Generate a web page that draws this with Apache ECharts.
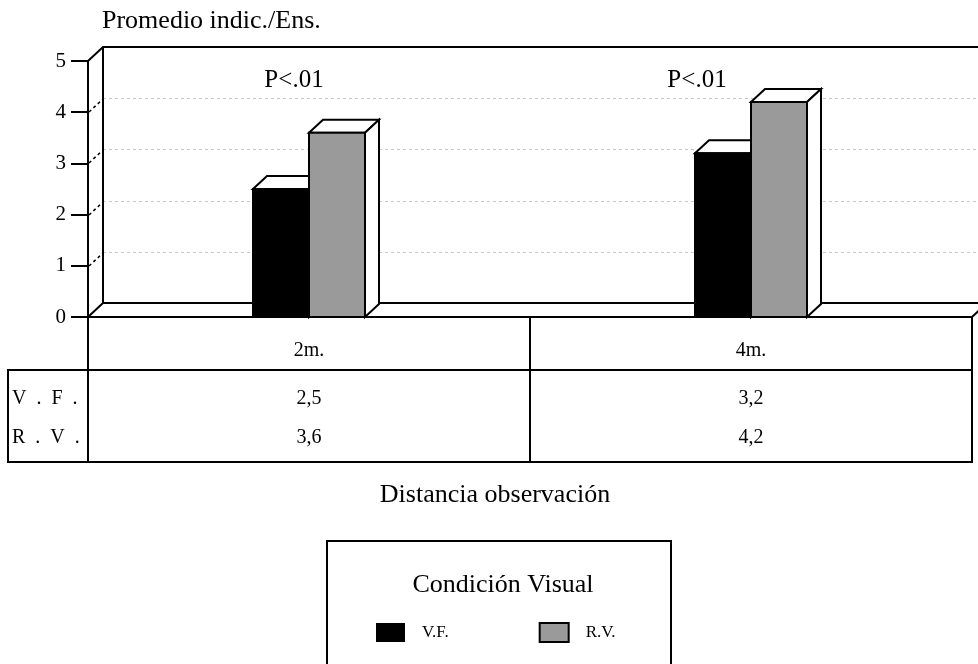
<!DOCTYPE html>
<html>
<head>
<meta charset="utf-8">
<script src="https://cdn.jsdelivr.net/npm/echarts@6/dist/echarts.min.js"></script>
<style>
  html, body { margin: 0; padding: 0; background: #fff; }
  #chart { width: 978px; height: 664px; }
</style>
</head>
<body>
<div id="chart"></div>
<script>
// ---- data ----
const categories = ['2m.', '4m.'];
const seriesNames = ['V.F.', 'R.V.'];
const rowLabels = ['V  .  F  .', 'R  .  V  .'];
const vfValues = [2.5, 3.2];
const rvValues = [3.6, 4.2];
const significance = ['P<.01', 'P<.01'];
const yTicks = [0, 1, 2, 3, 4, 5];

// ---- layout / style constants ----
const SERIF = '"Liberation Serif", "Times New Roman", serif';
const DX = 15, DY = -14;          // depth of back wall and floor
const BAR_DX = 14, BAR_DY = -13;  // depth of each bar
const BAR_FRAC = 56 / 442;        // bar width as a share of the category band
const HEADER_H = 53;              // category header row of the table
const TABLE_H = 145;              // full table height below the floor edge
const ROW_Y = [82, 121];          // text centres of the two value rows
const ROWLABEL_X = 8;             // left edge of the row-label column
const SIG_SHIFT = [-15, -54];     // horizontal shift of the significance notes
const GRAY = '#9a9a9a';

const fmt = v => v.toFixed(1).replace('.', ',');

function txt(text, x, y, size, align) {
  return {
    type: 'text',
    style: {
      text: text, x: x, y: y,
      font: size + 'px ' + SERIF, fontSize: size, fontFamily: SERIF,
      fill: '#000',
      align: align || 'center', textAlign: align || 'center',
      verticalAlign: 'middle', textVerticalAlign: 'middle'
    }
  };
}
function seg(x1, y1, x2, y2, w, dash, color) {
  return {
    type: 'line',
    shape: { x1: x1, y1: y1, x2: x2, y2: y2 },
    style: { stroke: color || '#000', lineWidth: w || 2, lineDash: dash || null, fill: 'none' }
  };
}

// back wall, floor and dashed guide lines
function renderFrame(params, api) {
  const cs = params.coordSys;
  const xL = cs.x, xR = cs.x + cs.width;
  const y0 = api.coord([0, yTicks[0]])[1];
  const yT = api.coord([0, yTicks[yTicks.length - 1]])[1];
  const W = api.getWidth() + 20;
  const ch = [];
  yTicks.slice(1, -1).forEach(function (v) {
    const y = Math.round(api.coord([0, v])[1]);
    ch.push(seg(xL + DX, y + DY + 0.5, W, y + DY + 0.5, 1, [3, 3], '#c8c8c8'));
    ch.push(seg(xL + 1, y, xL + DX, y + DY + 1, 1.5, [3, 3], '#000'));
  });
  ch.push(seg(xL + DX, yT + DY, xL + DX, y0 + DY));
  ch.push({ type: 'polyline', shape: { points: [[xL, yT], [xL + DX, yT + DY], [W, yT + DY]] },
            style: { stroke: '#000', lineWidth: 2, fill: 'none' } });
  ch.push({ type: 'polyline', shape: { points: [[xL, y0], [xL + DX, y0 + DY], [W, y0 + DY]] },
            style: { stroke: '#000', lineWidth: 2, fill: 'none' } });
  ch.push(seg(xR, y0, xR + DX, y0 + DY));
  return { type: 'group', children: ch };
}

// 3-D bar: front face, top face, right side face
function makeBarRenderer(slot) {
  return function (params, api) {
    const ci = api.value(0), v = api.value(1);
    const base = api.coord([ci, 0]);
    const top = api.coord([ci, v]);
    const w = api.size([1, 0])[0] * BAR_FRAC;
    const x0 = slot === 0 ? base[0] - w : base[0];
    const x1 = x0 + w;
    const yb = base[1], yt = top[1];
    const line = { stroke: '#000', lineWidth: 2, lineJoin: 'miter' };
    return {
      type: 'group',
      children: [
        { type: 'polygon',
          shape: { points: [[x0, yt], [x0 + BAR_DX, yt + BAR_DY], [x1 + BAR_DX, yt + BAR_DY], [x1, yt]] },
          style: Object.assign({ fill: '#fff' }, line) },
        { type: 'polygon',
          shape: { points: [[x1, yt], [x1 + BAR_DX, yt + BAR_DY], [x1 + BAR_DX, yb + BAR_DY], [x1, yb]] },
          style: Object.assign({ fill: '#fff' }, line) },
        { type: 'rect',
          shape: { x: x0, y: yt, width: w, height: yb - yt },
          style: Object.assign({ fill: api.visual('color') }, line) }
      ]
    };
  };
}

// data table under the floor plus the significance notes
function renderTable(params, api) {
  const i = api.value(0);
  const c = api.coord([i, 0]);
  const band = api.size([1, 0])[0];
  const xl = c[0] - band / 2, xr = c[0] + band / 2;
  const y0 = c[1], yH = y0 + HEADER_H, yB = y0 + TABLE_H;
  const yTop = api.coord([i, yTicks[yTicks.length - 1]])[1];
  const ch = [
    { type: 'rect', shape: { x: xl, y: y0, width: band, height: TABLE_H },
      style: { stroke: '#000', lineWidth: 2, fill: 'none' } },
    seg(xl, yH, xr, yH),
    txt(categories[i], c[0], y0 + 34, 20),
    txt(fmt(vfValues[i]), c[0], y0 + ROW_Y[0], 20),
    txt(fmt(rvValues[i]), c[0], y0 + ROW_Y[1], 20),
    txt(significance[i], c[0] + SIG_SHIFT[i], yTop + 19, 25)
  ];
  if (i === 0) {
    ch.push({ type: 'rect', shape: { x: ROWLABEL_X, y: yH, width: xl - ROWLABEL_X, height: yB - yH },
              style: { stroke: '#000', lineWidth: 2, fill: 'none' } });
    ch.push(txt(rowLabels[0], ROWLABEL_X + 4, y0 + ROW_Y[0], 20, 'left'));
    ch.push(txt(rowLabels[1], ROWLABEL_X + 4, y0 + ROW_Y[1], 20, 'left'));
  }
  return { type: 'group', children: ch };
}

const chart = echarts.init(document.getElementById('chart'), null, { renderer: 'canvas' });

chart.setOption({
  animation: false,
  backgroundColor: '#fff',
  grid: { left: 88, right: 6, top: 61, bottom: 347 },
  xAxis: { type: 'category', data: categories, show: false },
  yAxis: {
    type: 'value', min: 0, max: 5, interval: 1,
    axisLine: { show: true, lineStyle: { color: '#000', width: 2 } },
    axisTick: { show: true, length: 17, lineStyle: { color: '#000', width: 2 } },
    axisLabel: { margin: 22, fontSize: 21, fontFamily: SERIF, color: '#000' },
    splitLine: { show: false }
  },
  legend: {
    left: 371, top: 617,
    itemWidth: 29, itemHeight: 19, itemGap: 90,
    icon: 'rect', selectedMode: false,
    data: [
      { name: seriesNames[0], itemStyle: { color: '#000', borderWidth: 0 } },
      { name: seriesNames[1], itemStyle: { color: GRAY, borderColor: '#000', borderWidth: 2 } }
    ],
    textStyle: { fontFamily: SERIF, fontSize: 17, color: '#000', padding: [0, 0, 0, 12] }
  },
  graphic: [
    { type: 'text', x: 102, y: 21,
      style: { text: 'Promedio indic./Ens.', font: '26px ' + SERIF, fill: '#000',
               align: 'left', textAlign: 'left', verticalAlign: 'middle', textVerticalAlign: 'middle' } },
    { type: 'text', x: 495, y: 495,
      style: { text: 'Distancia observación', font: '26px ' + SERIF, fill: '#000',
               align: 'center', textAlign: 'center', verticalAlign: 'middle', textVerticalAlign: 'middle' } },
    { type: 'rect', shape: { x: 327, y: 541, width: 344, height: 140 },
      style: { stroke: '#000', lineWidth: 2, fill: 'none' } },
    { type: 'text', x: 503, y: 585,
      style: { text: 'Condición Visual', font: '26px ' + SERIF, fill: '#000',
               align: 'center', textAlign: 'center', verticalAlign: 'middle', textVerticalAlign: 'middle' } }
  ],
  series: [
    { type: 'custom', name: 'frame', z: 1, clip: false, silent: true,
      renderItem: renderFrame, data: [[0, 0]] },
    { type: 'custom', name: seriesNames[0], z: 2, clip: false,
      itemStyle: { color: '#000' },
      renderItem: makeBarRenderer(0), encode: { x: 0, y: 1 },
      data: vfValues.map(function (v, i) { return [i, v]; }) },
    { type: 'custom', name: seriesNames[1], z: 3, clip: false,
      itemStyle: { color: GRAY },
      renderItem: makeBarRenderer(1), encode: { x: 0, y: 1 },
      data: rvValues.map(function (v, i) { return [i, v]; }) },
    { type: 'custom', name: 'table', z: 4, clip: false, silent: true,
      renderItem: renderTable, data: categories.map(function (c, i) { return [i, 0]; }) }
  ]
});
</script>
</body>
</html>
